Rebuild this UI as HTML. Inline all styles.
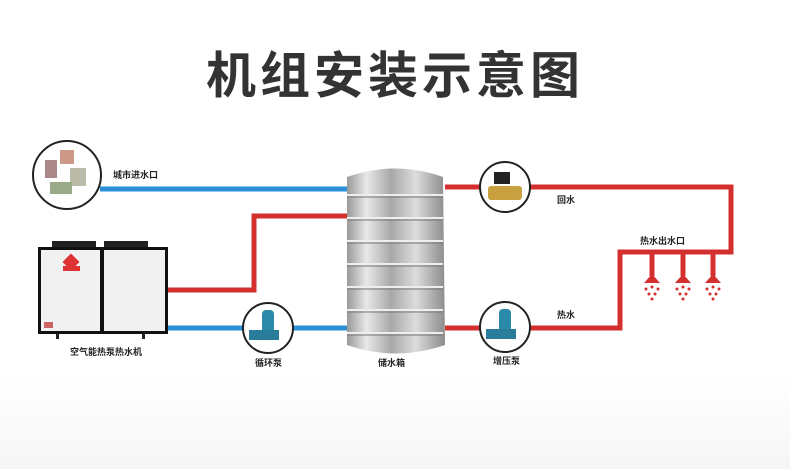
<!DOCTYPE html>
<html><head><meta charset="utf-8"><style>
html,body{margin:0;padding:0;background:#fff;}
svg{display:block}
text{font-family:"Liberation Sans","Noto Sans CJK SC",sans-serif;}
</style></head><body>
<svg width="790" height="469" viewBox="0 0 790 469" xmlns="http://www.w3.org/2000/svg">
<defs>
<linearGradient id="tank" x1="0" x2="1">
<stop offset="0" stop-color="#9a9a9a"/><stop offset="0.2" stop-color="#e8e8e8"/><stop offset="0.45" stop-color="#a8a8a8"/><stop offset="0.7" stop-color="#dcdcdc"/><stop offset="1" stop-color="#8c8c8c"/>
</linearGradient>
<linearGradient id="bg" x1="0" y1="0" x2="0" y2="1"><stop offset="0" stop-color="#fff"/><stop offset="0.8" stop-color="#fff"/><stop offset="1" stop-color="#f6f6f6"/></linearGradient>
</defs>
<rect width="790" height="469" fill="url(#bg)"/>
<text x="395" y="93" text-anchor="middle" font-size="50" font-weight="bold" fill="#333" letter-spacing="4">机组安装示意图</text>

<g fill="none" stroke-width="5">
<path d="M100 189 H348" stroke="#2a8fd6"/>
<path d="M166 328 H348" stroke="#2a8fd6"/>
<path d="M166 290 H254 V216 H348" stroke="#d42f2f"/>
<path d="M445 187 H731 V252 H620 V328 H445" stroke="#d42f2f"/>
<path d="M652 252 V276 M683 252 V276 M713 252 V276" stroke="#d42f2f"/>
</g>
<g fill="#d42f2f">
<path d="M644 283 L652 274 L660 283Z"/><path d="M675 283 L683 274 L691 283Z"/><path d="M705 283 L713 274 L721 283Z"/>
<g id="dr"><circle cx="646" cy="289" r="1.5"/><circle cx="652" cy="287" r="1.5"/><circle cx="658" cy="289" r="1.5"/><circle cx="649" cy="294" r="1.5"/><circle cx="655" cy="294" r="1.5"/><circle cx="652" cy="299" r="1.5"/></g>
<use href="#dr" x="31"/><use href="#dr" x="61"/>
</g>

<circle cx="67" cy="175" r="34" fill="#fff" stroke="#222" stroke-width="2"/>
<rect x="45" y="160" width="12" height="18" fill="#a88"/><rect x="60" y="150" width="14" height="14" fill="#c98"/><rect x="70" y="168" width="16" height="18" fill="#bba"/><rect x="50" y="182" width="22" height="12" fill="#9a8"/>

<rect x="52" y="241" width="44" height="7" fill="#222"/><rect x="104" y="241" width="44" height="7" fill="#222"/>
<rect x="38" y="247" width="130" height="87" fill="#111"/>
<rect x="41" y="250" width="59" height="81" fill="#f1f1f1"/><rect x="104" y="250" width="61" height="81" fill="#f1f1f1"/>
<rect x="65" y="256" width="12" height="12" fill="#d33" transform="rotate(45 71 262)"/>
<rect x="63" y="266" width="17" height="5" fill="#d33"/>
<rect x="44" y="322" width="9" height="6" fill="#c66"/>
<rect x="56" y="334" width="3" height="5" fill="#222"/><rect x="142" y="334" width="3" height="5" fill="#222"/>

<path d="M347 177 Q395 160 443 177 L445 345 Q395 362 347 345Z" fill="url(#tank)"/>
<g stroke="#eee" stroke-width="2" fill="none">
<path d="M347 195 H443 M347 218 H443 M347 241 H443 M347 264 H443 M347 287 H443 M347 310 H443 M347 333 H443"/>
</g>
<g stroke="#777" stroke-width="1" fill="none">
<path d="M347 197 H443 M347 220 H443 M347 243 H443 M347 266 H443 M347 289 H443 M347 312 H443 M347 335 H443"/>
</g>

<circle cx="505" cy="187" r="25" fill="#fff" stroke="#222" stroke-width="2"/>
<rect x="494" y="172" width="16" height="12" fill="#222"/><rect x="488" y="186" width="34" height="14" rx="3" fill="#c8a040"/>
<circle cx="268" cy="328" r="25" fill="#fff" stroke="#222" stroke-width="2"/>
<rect x="262" y="310" width="12" height="24" rx="4" fill="#2a8aa8"/><rect x="249" y="330" width="30" height="10" fill="#2a7d9a"/>
<circle cx="505" cy="327" r="25" fill="#fff" stroke="#222" stroke-width="2"/>
<rect x="499" y="309" width="12" height="24" rx="4" fill="#2a8aa8"/><rect x="486" y="329" width="30" height="10" fill="#2a7d9a"/>

<g font-size="9" fill="#222" font-weight="bold">
<text x="113" y="178">城市进水口</text>
<text x="557" y="203">回水</text>
<text x="640" y="244">热水出水口</text>
<text x="557" y="318">热水</text>
<text x="70" y="355">空气能热泵热水机</text>
<text x="255" y="366">循环泵</text>
<text x="378" y="366">储水箱</text>
<text x="493" y="364">增压泵</text>
</g>
</svg>
</body></html>
